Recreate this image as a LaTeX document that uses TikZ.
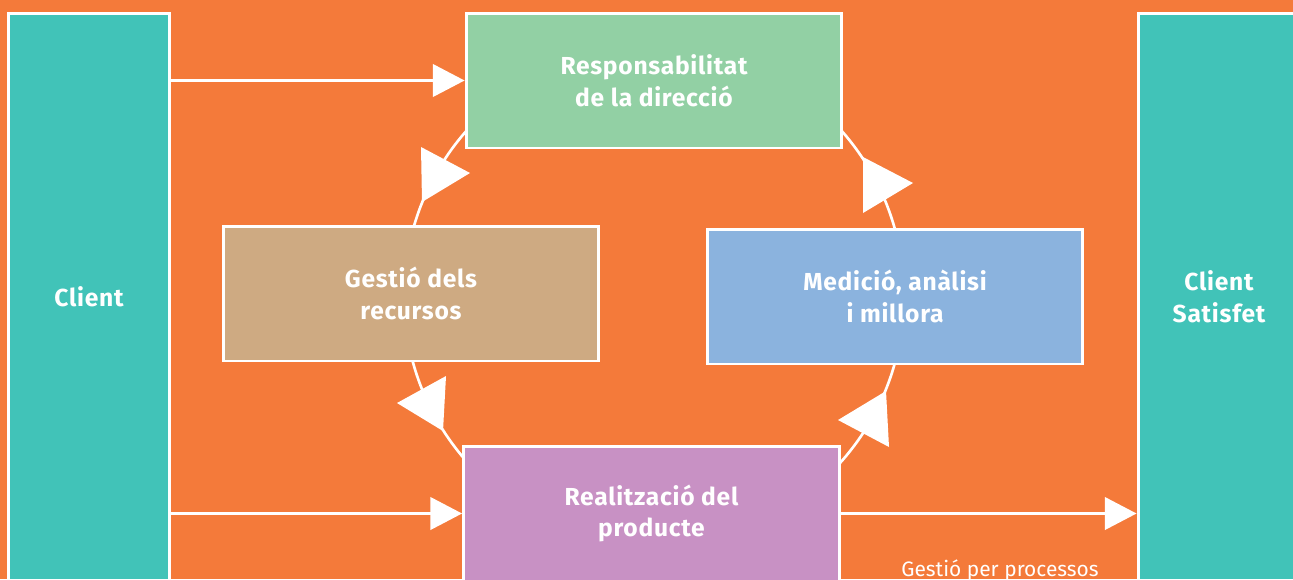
\documentclass[tikz,border=0pt]{standalone}
\usepackage{fontspec}
\setmainfont{Fira Sans}
\usetikzlibrary{arrows.meta,positioning}

\definecolor{bgorange}{HTML}{F47A3A}
\definecolor{clientteal}{HTML}{41C3B8}
\definecolor{respgreen}{HTML}{92D0A4}
\definecolor{recurstan}{HTML}{CEAA82}
\definecolor{midblue}{HTML}{8BB3DE}
\definecolor{realpurple}{HTML}{C891C4}

\begin{document}
\begin{tikzpicture}[x=0.02cm, y=-0.02cm,
	box/.style={draw=white, line width=1.7pt, text=white, align=center, inner sep=0pt,
		font=\bfseries\addfontfeatures{LetterSpace=3}\fontsize{14}{18}\selectfont,
		minimum width=7.52cm, minimum height=2.7cm},
	side/.style={box, fill=clientteal, minimum width=3.24cm, minimum height=11.36cm},
	flow/.style={draw=white, line width=1.3pt, -{Triangle[length=18pt,width=18.5pt]}},
	ring/.style={draw=white, line width=1.5pt}]
	\clip (0,0) rectangle (1293,579);
	\fill[bgorange] (0,0) rectangle (1293,579);
	% the cycle behind the boxes
	\coordinate (cyc) at (654,296);
	\draw[ring] (cyc) circle[radius=5cm];
	\fill[white] (421,147) -- (470,173) -- (422,202) -- cycle;
	\fill[white] (863,157) -- (913,183) -- (863,213) -- cycle;
	\fill[white] (446,376) -- (397,403) -- (443,431) -- cycle;
	\fill[white] (886,391) -- (838,420) -- (889,447) -- cycle;
	% boxes
	\node[side] (client) at (89,297) {Client};
	\node[side] (sat) at (1219,297) {Client\\Satisfet};
	\node[box, fill=respgreen] (resp) at (654,80.5) {Responsabilitat\\de la direcció};
	\node[box, fill=recurstan] (recur) at (411,293.5) {Gestió dels\\recursos};
	\node[box, fill=midblue] (mesura) at (895,296.5) {Medició, anàlisi\\i millora};
	\node[box, fill=realpurple] (real) at (651.5,513.5) {Realització del\\producte};
	% flows
	\draw[flow] (client.east |- resp.west) -- (resp.west);
	\draw[flow] (client.east |- real.west) -- (real.west);
	\draw[flow] (real.east) -- (sat.west |- real.east);
	\node[text=white, font=\fontsize{11.9}{13}\selectfont, anchor=base] (proc) at (1000,576) {Gestió per processos};
\end{tikzpicture}
\end{document}
